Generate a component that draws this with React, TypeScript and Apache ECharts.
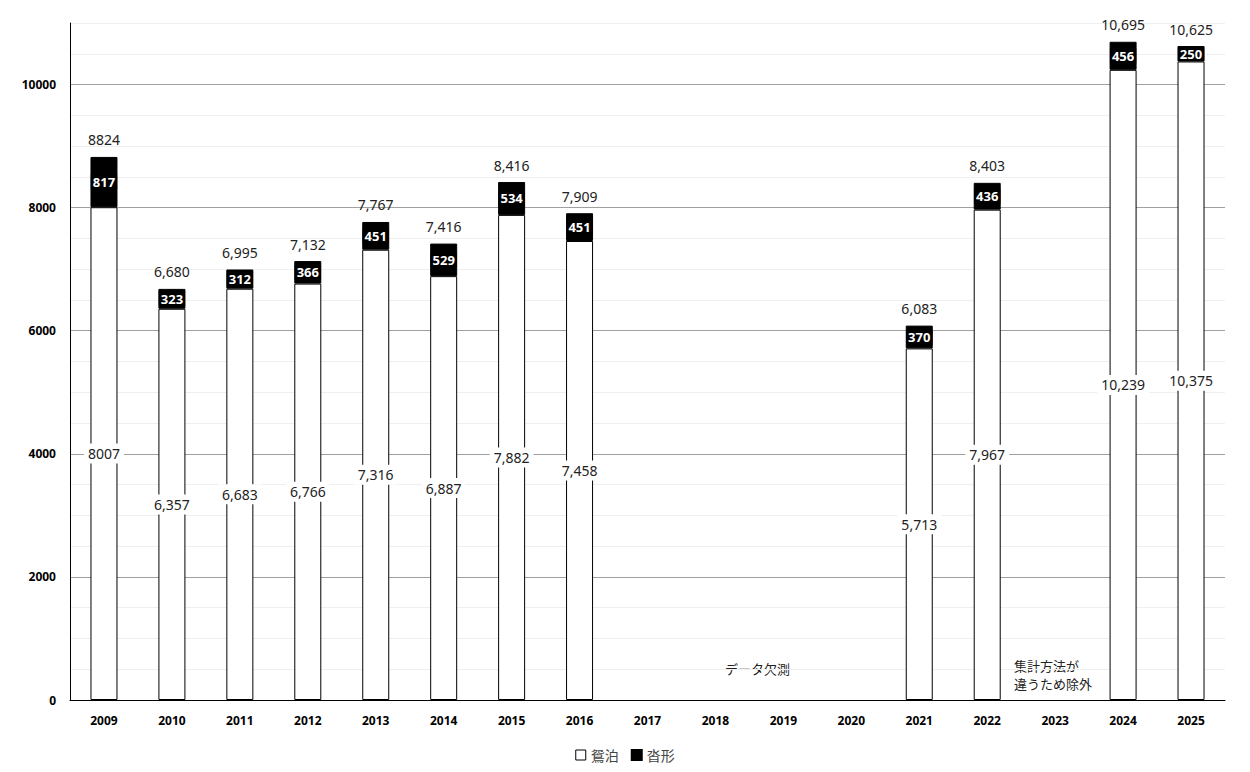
import { useEffect, useRef } from 'react'
import * as echarts from 'echarts'

const years = ['2009', '2010', '2011', '2012', '2013', '2014', '2015', '2016', '2017', '2018', '2019', '2020', '2021', '2022', '2023', '2024', '2025']
const oshidomari = [8007, 6357, 6683, 6766, 7316, 6887, 7882, 7458, null, null, null, null, 5713, 7967, null, 10239, 10375]
const kutsugata = [817, 323, 312, 366, 451, 529, 534, 451, null, null, null, null, 370, 436, null, 456, 250]
const notes = ['データ欠測', '集計方法が\n違うため除外']

const FONT = '"Noto Sans", "Noto Sans CJK JP", sans-serif'

function fmt(v: number, i: number): string {
  // 2009 is printed without a thousands separator in the original
  return i === 0 ? String(v) : v.toLocaleString('en-US')
}

const totals = oshidomari.map((v, i) => (v == null || kutsugata[i] == null ? null : v + (kutsugata[i] as number)))

export default function App() {
  const chartRef = useRef<HTMLDivElement>(null)

  useEffect(() => {
    if (!chartRef.current) return
    const chart = echarts.init(chartRef.current, undefined, { renderer: 'svg' })

    const option: echarts.EChartsOption = {
      animation: false,
      textStyle: { fontFamily: FONT },
      grid: { left: 62, right: 17, top: 15, bottom: 64 },
      legend: {
        bottom: -3,
        left: 'center',
        icon: 'rect',
        itemWidth: 10,
        itemHeight: 10,
        itemGap: 12,
        textStyle: { fontSize: 14, color: '#444', fontFamily: FONT },
        data: [
          { name: '鴛泊', itemStyle: { color: '#fff', borderColor: '#000', borderWidth: 1 } },
          { name: '沓形', itemStyle: { color: '#000' } }
        ]
      },
      graphic: [
        { type: 'text', left: 717, top: 654, style: { text: notes[0], fontSize: 13, fill: '#222', fontFamily: FONT } },
        { type: 'text', left: 1006, top: 649, style: { text: notes[1], fontSize: 13, lineHeight: 18, fill: '#222', fontFamily: FONT } }
      ],
      xAxis: {
        type: 'category',
        data: years,
        axisLine: { lineStyle: { color: '#000', width: 1 } },
        axisTick: { show: false },
        axisLabel: { color: '#000', fontWeight: 'bold', fontSize: 12, margin: 14, fontFamily: FONT }
      },
      yAxis: {
        type: 'value',
        min: 0,
        max: 11000,
        interval: 500,
        axisLine: { show: true, lineStyle: { color: '#000', width: 1 } },
        axisTick: { show: false },
        axisLabel: {
          color: '#000',
          fontWeight: 'bold',
          fontSize: 12,
          margin: 14,
          fontFamily: FONT,
          formatter: (v: number) => (v % 2000 === 0 ? String(v) : '')
        },
        splitLine: {
          lineStyle: { color: ['#a0a0a0', '#efefef', '#efefef', '#efefef'], width: 1 }
        }
      },
      series: [
        {
          name: '鴛泊',
          type: 'bar',
          stack: 'total',
          barWidth: 27,
          data: oshidomari,
          itemStyle: { color: '#fff', borderColor: '#000', borderWidth: 1 },
          label: {
            show: true,
            position: 'inside',
            color: '#222',
            fontSize: 14,
            backgroundColor: '#fff',
            padding: [3, 4],
            fontFamily: FONT,
            formatter: (p: any) => fmt(p.value, p.dataIndex)
          }
        },
        {
          name: '沓形',
          type: 'bar',
          stack: 'total',
          barWidth: 27,
          data: kutsugata,
          itemStyle: { color: '#000', borderColor: '#000', borderWidth: 1 },
          label: {
            show: true,
            position: 'inside',
            color: '#fff',
            fontSize: 13,
            fontWeight: 'bold',
            backgroundColor: '#000',
            padding: [1, 2],
            fontFamily: FONT
          }
        },
        {
          name: '合計',
          type: 'bar',
          stack: 'total',
          barWidth: 27,
          data: totals.map((t) => (t == null ? null : 0)),
          itemStyle: { color: 'transparent' },
          label: {
            show: true,
            position: 'top',
            distance: 10,
            color: '#222',
            fontSize: 14,
            fontFamily: FONT,
            formatter: (p: any) => {
              const t = totals[p.dataIndex]
              return t == null ? '' : fmt(t, p.dataIndex)
            }
          }
        }
      ]
    }

    chart.setOption(option)
    return () => chart.dispose()
  }, [])

  return <div ref={chartRef} style={{ width: 1234, height: 756 }} />
}
